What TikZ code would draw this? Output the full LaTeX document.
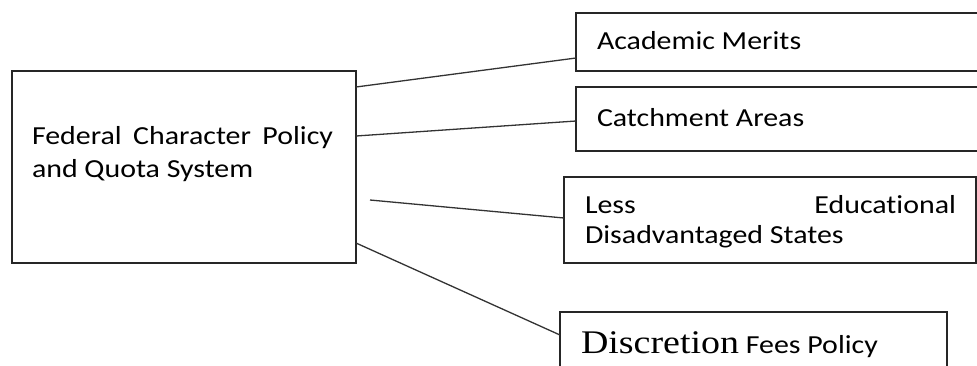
\documentclass[tikz,border=0pt]{standalone}
\usepackage{fontspec}
\setmainfont{Carlito}[FakeStretch=1.15, RawFeature={-liga;-dlig;-clig;-calt}]
\newfontfamily\serifword{Liberation Serif}[FakeStretch=1.15]
\usetikzlibrary{calc}

\tikzset{
  box/.style={draw=black!85, line width=1.5pt, inner sep=0pt, outer sep=0pt,
    anchor=north west},
  label text/.style={anchor=base west, inner sep=0pt, outer sep=0pt,
    font=\fontsize{26}{33}\selectfont, text=black},
  link/.style={draw=black!80, line width=1.3pt}
}

\begin{document}
\begin{tikzpicture}[x=1pt, y=-1pt]
  \useasboundingbox (0,0) rectangle (977,365);
  \clip (0,0) rectangle (977,365);

  % boxes
  \node[box, minimum width=344pt, minimum height=192pt] (fcp) at (12,71) {};
  \node[box, minimum width=420pt, minimum height=58pt]  (am)  at (576,13) {};
  \node[box, minimum width=420pt, minimum height=64pt]  (ca)  at (576,87) {};
  \node[box, minimum width=412pt, minimum height=86pt]  (le)  at (564,177) {};
  \node[box, minimum width=387pt, minimum height=70pt]  (dfp) at (560,312) {};

  % texts
  \node[label text] (fcpA) at (32,144) {\makebox[301pt][s]{Federal Character Policy}};
  \node[label text] (fcpB) at (32,177) {and Quota System};
  \node[label text] (amT)  at (597,49)  {Academic Merits};
  \node[label text] (caT)  at (597,126) {Catchment Areas};
  \node[label text] (leA)  at (585,213) {\makebox[371pt][s]{Less Educat\kern0pt ional}};
  \node[label text] (leB)  at (585,243) {Disadvantaged States};
  \node[label text] (dfpT) at (581,353)
    {{\serifword\fontsize{33}{36}\selectfont Discretion} Fees Policy};

  % connectors
  \coordinate (loose) at (370,200);
  \draw[link] ($(fcp.north east)+(0,16)$)  -- ($(am.north west)+(0,45)$);
  \draw[link] ($(fcp.north east)+(0,65)$)  -- ($(ca.north west)+(0,34)$);
  \draw[link] (loose)                      -- ($(le.north west)+(0,41)$);
  \draw[link] ($(fcp.north east)+(0,172)$) -- ($(dfp.north west)+(0,23)$);
\end{tikzpicture}
\end{document}
